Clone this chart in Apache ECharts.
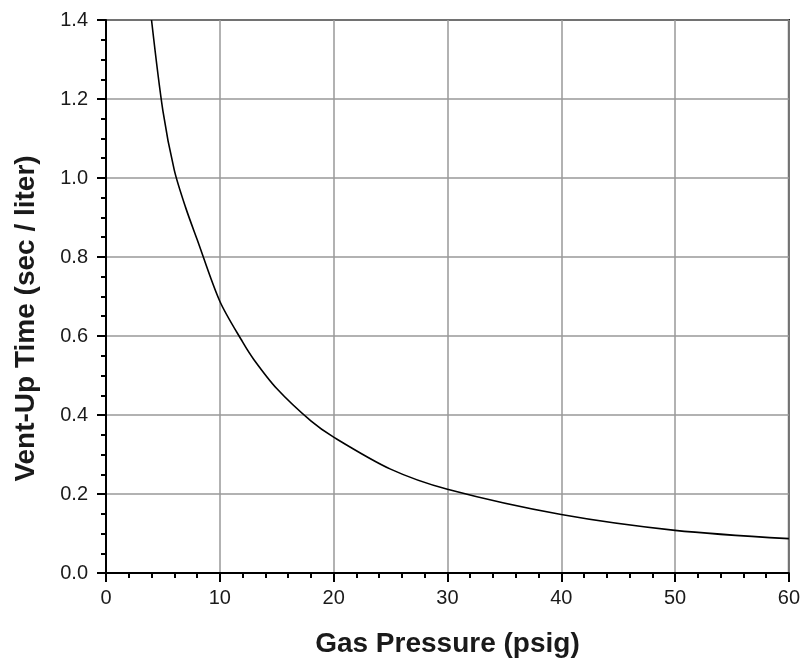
<!DOCTYPE html>
<html>
<head>
<meta charset="utf-8">
<script src="https://cdn.jsdelivr.net/npm/echarts@6/dist/echarts.min.js"></script>
<style>
html,body{margin:0;padding:0;background:#fff;}
#chart{width:803px;height:664px;}
</style>
</head>
<body>
<div id="chart"></div>
<script>
const pressure = [4, 5, 6, 7, 8, 10, 12, 13, 15, 18, 20, 25, 30, 40, 50, 60];
const ventTime = [1.40, 1.17, 1.02, 0.925, 0.845, 0.688, 0.585, 0.54, 0.467, 0.385, 0.344, 0.263, 0.212, 0.148, 0.108, 0.087];
const xTicks = [0, 10, 20, 30, 40, 50, 60];
const yTicks = [0.0, 0.2, 0.4, 0.6, 0.8, 1.0, 1.2, 1.4];

const chart = echarts.init(document.getElementById('chart'), null, {renderer: 'canvas'});
const fontFamily = '"Liberation Sans", Arial, sans-serif';
chart.setOption({
  animation: false,
  backgroundColor: '#fff',
  grid: {
    left: 106, right: 14, top: 20, bottom: 91,
    show: true, borderColor: '#000', borderWidth: 2, backgroundColor: 'transparent'
  },
  xAxis: {
    type: 'value',
    min: xTicks[0], max: xTicks[xTicks.length - 1], interval: 10,
    name: 'Gas Pressure (psig)',
    nameLocation: 'middle',
    nameGap: 57,
    nameTextStyle: {fontFamily, fontSize: 28, fontWeight: 'bold', color: '#1a1a1a'},
    axisLine: {show: true, lineStyle: {color: '#000', width: 2}},
    axisTick: {show: true, inside: false, length: 9, lineStyle: {color: '#000', width: 2}},
    minorTick: {show: true, splitNumber: 5, length: 5, lineStyle: {color: '#000', width: 2}},
    axisLabel: {fontFamily, fontSize: 20, color: '#1a1a1a', margin: 15},
    splitLine: {show: true, lineStyle: {color: '#999', width: 1.5}}
  },
  yAxis: {
    type: 'value',
    min: yTicks[0], max: yTicks[yTicks.length - 1], interval: 0.2,
    name: 'Vent-Up Time (sec / liter)',
    nameLocation: 'middle',
    nameGap: 66,
    nameRotate: 90,
    nameTextStyle: {fontFamily, fontSize: 28, fontWeight: 'bold', color: '#1a1a1a', padding: [0, 44, 0, 0]},
    axisLine: {show: true, lineStyle: {color: '#000', width: 2}},
    axisTick: {show: true, inside: false, length: 9, lineStyle: {color: '#000', width: 2}},
    minorTick: {show: true, splitNumber: 4, length: 5, lineStyle: {color: '#000', width: 2}},
    axisLabel: {fontFamily, fontSize: 20, color: '#1a1a1a', margin: 18,
      formatter: v => v.toFixed(1)},
    splitLine: {show: true, lineStyle: {color: '#999', width: 1.5}}
  },
  series: [{
    type: 'line',
    data: pressure.map((p, i) => [p, ventTime[i]]),
    showSymbol: false,
    smooth: 0.3,
    clip: true,
    lineStyle: {color: '#000', width: 1.6}
  }]
});
</script>
</body>
</html>
